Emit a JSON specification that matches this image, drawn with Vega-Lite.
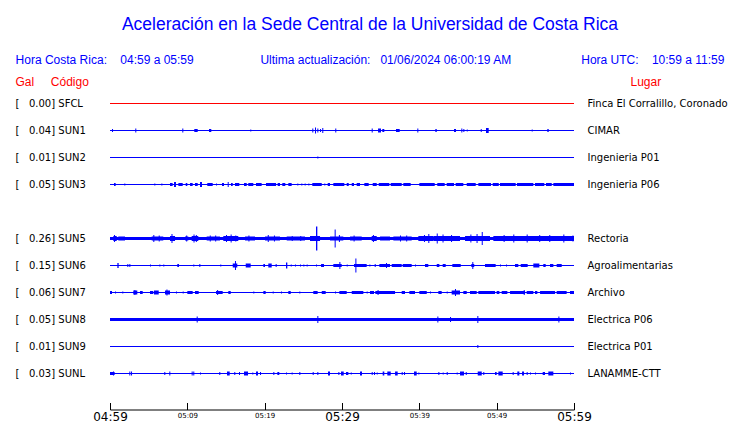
{
  "$schema": "https://vega.github.io/schema/vega-lite/v6.json",
  "width": 464,
  "height": 324,
  "autosize": {"type": "none"},
  "padding": {"top": 76.5, "left": 110, "right": 166, "bottom": 22.5},
  "background": "white",
  "title": {
    "text": "\u00a0\u00a0Aceleración en la Sede Central de la Universidad de Costa Rica",
    "subtitle": "Hora Costa Rica:\u00a0\u00a0\u00a0\u00a004:59 a 05:59\u00a0\u00a0\u00a0\u00a0\u00a0\u00a0\u00a0\u00a0\u00a0\u00a0\u00a0\u00a0\u00a0\u00a0\u00a0\u00a0\u00a0\u00a0\u00a0\u00a0Ultima actualización:\u00a0\u00a0\u00a001/06/2024 06:00:19 AM\u00a0\u00a0\u00a0\u00a0\u00a0\u00a0\u00a0\u00a0\u00a0\u00a0\u00a0\u00a0\u00a0\u00a0\u00a0\u00a0\u00a0\u00a0\u00a0\u00a0\u00a0Hora UTC:\u00a0\u00a0\u00a0\u00a010:59 a 11:59",
    "anchor": "middle",
    "frame": "group",
    "dx": 28,
    "font": "Liberation Sans",
    "fontSize": 17.5,
    "fontWeight": "normal",
    "color": "#0000ff",
    "subtitleFont": "Liberation Sans",
    "subtitleFontSize": 12,
    "subtitleColor": "#0000ff",
    "subtitlePadding": 22,
    "offset": 9
  },
  "config": {"view": {"stroke": null}, "axis": {"grid": false}},
  "datasets": {
    "estaciones": [
      {"codigo": "SFCL", "etiqueta": "[\u00a0\u00a0\u00a00.00]\u00a0SFCL", "lugar": "Finca El Corralillo, Coronado"},
      {"codigo": "SUN1", "etiqueta": "[\u00a0\u00a0\u00a00.04]\u00a0SUN1", "lugar": "CIMAR"},
      {"codigo": "SUN2", "etiqueta": "[\u00a0\u00a0\u00a00.01]\u00a0SUN2", "lugar": "Ingenieria P01"},
      {"codigo": "SUN3", "etiqueta": "[\u00a0\u00a0\u00a00.05]\u00a0SUN3", "lugar": "Ingenieria P06"},
      {"codigo": "SUN5", "etiqueta": "[\u00a0\u00a0\u00a00.26]\u00a0SUN5", "lugar": "Rectoria"},
      {"codigo": "SUN6", "etiqueta": "[\u00a0\u00a0\u00a00.15]\u00a0SUN6", "lugar": "Agroalimentarias"},
      {"codigo": "SUN7", "etiqueta": "[\u00a0\u00a0\u00a00.06]\u00a0SUN7", "lugar": "Archivo"},
      {"codigo": "SUN8", "etiqueta": "[\u00a0\u00a0\u00a00.05]\u00a0SUN8", "lugar": "Electrica P06"},
      {"codigo": "SUN9", "etiqueta": "[\u00a0\u00a0\u00a00.01]\u00a0SUN9", "lugar": "Electrica P01"},
      {"codigo": "SUNL", "etiqueta": "[\u00a0\u00a0\u00a00.03]\u00a0SUNL", "lugar": "LANAMME-CTT"}
    ],
    "trazas": [
      {"codigo": "SUN1", "t0": 0.26, "t1": 0.39, "amp": 3},
      {"codigo": "SUN1", "t0": 3.27, "t1": 3.40, "amp": 4},
      {"codigo": "SUN1", "t0": 9.35, "t1": 9.48, "amp": 4},
      {"codigo": "SUN1", "t0": 10.90, "t1": 11.34, "amp": 3},
      {"codigo": "SUN1", "t0": 12.80, "t1": 13.10, "amp": 3},
      {"codigo": "SUN1", "t0": 18.14, "t1": 18.27, "amp": 2},
      {"codigo": "SUN1", "t0": 26.16, "t1": 26.29, "amp": 4},
      {"codigo": "SUN1", "t0": 26.51, "t1": 26.64, "amp": 6},
      {"codigo": "SUN1", "t0": 26.81, "t1": 26.94, "amp": 4},
      {"codigo": "SUN1", "t0": 27.16, "t1": 27.29, "amp": 3},
      {"codigo": "SUN1", "t0": 27.45, "t1": 27.58, "amp": 5},
      {"codigo": "SUN1", "t0": 29.13, "t1": 29.26, "amp": 4},
      {"codigo": "SUN1", "t0": 33.84, "t1": 33.97, "amp": 4},
      {"codigo": "SUN1", "t0": 34.66, "t1": 35.04, "amp": 4},
      {"codigo": "SUN1", "t0": 35.21, "t1": 35.47, "amp": 3},
      {"codigo": "SUN1", "t0": 36.98, "t1": 37.46, "amp": 3},
      {"codigo": "SUN1", "t0": 39.74, "t1": 39.87, "amp": 4},
      {"codigo": "SUN1", "t0": 42.07, "t1": 42.25, "amp": 3},
      {"codigo": "SUN1", "t0": 44.48, "t1": 44.74, "amp": 3},
      {"codigo": "SUN1", "t0": 45.43, "t1": 45.56, "amp": 4},
      {"codigo": "SUN1", "t0": 45.69, "t1": 45.82, "amp": 3},
      {"codigo": "SUN1", "t0": 46.13, "t1": 46.26, "amp": 2},
      {"codigo": "SUN1", "t0": 47.94, "t1": 48.07, "amp": 3},
      {"codigo": "SUN1", "t0": 48.62, "t1": 48.97, "amp": 5},
      {"codigo": "SUN1", "t0": 54.53, "t1": 54.66, "amp": 2},
      {"codigo": "SUN1", "t0": 56.55, "t1": 56.73, "amp": 3},

      {"codigo": "SUN2", "t0": 26.81, "t1": 26.94, "amp": 2},

      {"codigo": "SUN3", "t0": 0.52, "t1": 0.73, "amp": 3},
      {"codigo": "SUN3", "t0": 1.85, "t1": 1.98, "amp": 2},
      {"codigo": "SUN3", "t0": 5.73, "t1": 5.86, "amp": 2},
      {"codigo": "SUN3", "t0": 6.64, "t1": 6.77, "amp": 2},
      {"codigo": "SUN3", "t0": 7.76, "t1": 8.10, "amp": 3},
      {"codigo": "SUN3", "t0": 8.28, "t1": 8.53, "amp": 5},
      {"codigo": "SUN3", "t0": 8.84, "t1": 9.40, "amp": 3},
      {"codigo": "SUN3", "t0": 9.79, "t1": 10.00, "amp": 3},
      {"codigo": "SUN3", "t0": 10.35, "t1": 10.69, "amp": 3},
      {"codigo": "SUN3", "t0": 10.99, "t1": 11.34, "amp": 3},
      {"codigo": "SUN3", "t0": 11.64, "t1": 11.90, "amp": 5},
      {"codigo": "SUN3", "t0": 12.58, "t1": 13.28, "amp": 3},
      {"codigo": "SUN3", "t0": 13.71, "t1": 13.84, "amp": 2},
      {"codigo": "SUN3", "t0": 14.48, "t1": 14.74, "amp": 3},
      {"codigo": "SUN3", "t0": 15.22, "t1": 15.35, "amp": 5},
      {"codigo": "SUN3", "t0": 15.65, "t1": 15.87, "amp": 3},
      {"codigo": "SUN3", "t0": 16.16, "t1": 16.72, "amp": 3},
      {"codigo": "SUN3", "t0": 17.33, "t1": 17.68, "amp": 3},
      {"codigo": "SUN3", "t0": 17.88, "t1": 18.53, "amp": 3},
      {"codigo": "SUN3", "t0": 18.88, "t1": 19.61, "amp": 3},
      {"codigo": "SUN3", "t0": 20.17, "t1": 21.47, "amp": 3},
      {"codigo": "SUN3", "t0": 21.68, "t1": 21.98, "amp": 3},
      {"codigo": "SUN3", "t0": 22.28, "t1": 22.67, "amp": 3},
      {"codigo": "SUN3", "t0": 23.06, "t1": 23.49, "amp": 3},
      {"codigo": "SUN3", "t0": 24.22, "t1": 24.35, "amp": 2},
      {"codigo": "SUN3", "t0": 24.74, "t1": 24.87, "amp": 2},
      {"codigo": "SUN3", "t0": 25.17, "t1": 25.30, "amp": 2},
      {"codigo": "SUN3", "t0": 25.65, "t1": 25.78, "amp": 2},
      {"codigo": "SUN3", "t0": 26.16, "t1": 27.38, "amp": 3},
      {"codigo": "SUN3", "t0": 27.71, "t1": 27.84, "amp": 2},
      {"codigo": "SUN3", "t0": 28.15, "t1": 28.45, "amp": 3},
      {"codigo": "SUN3", "t0": 28.88, "t1": 30.30, "amp": 3},
      {"codigo": "SUN3", "t0": 30.61, "t1": 30.87, "amp": 3},
      {"codigo": "SUN3", "t0": 31.26, "t1": 31.55, "amp": 3},
      {"codigo": "SUN3", "t0": 31.90, "t1": 32.33, "amp": 3},
      {"codigo": "SUN3", "t0": 32.89, "t1": 33.45, "amp": 3},
      {"codigo": "SUN3", "t0": 33.97, "t1": 34.49, "amp": 3},
      {"codigo": "SUN3", "t0": 34.75, "t1": 36.12, "amp": 3},
      {"codigo": "SUN3", "t0": 36.30, "t1": 37.72, "amp": 3},
      {"codigo": "SUN3", "t0": 37.93, "t1": 38.88, "amp": 3},
      {"codigo": "SUN3", "t0": 40.00, "t1": 41.99, "amp": 3},
      {"codigo": "SUN3", "t0": 42.32, "t1": 43.28, "amp": 3},
      {"codigo": "SUN3", "t0": 43.54, "t1": 44.48, "amp": 3},
      {"codigo": "SUN3", "t0": 44.70, "t1": 45.69, "amp": 3},
      {"codigo": "SUN3", "t0": 46.13, "t1": 47.29, "amp": 3},
      {"codigo": "SUN3", "t0": 47.63, "t1": 49.27, "amp": 3},
      {"codigo": "SUN3", "t0": 49.49, "t1": 50.27, "amp": 3},
      {"codigo": "SUN3", "t0": 50.43, "t1": 52.46, "amp": 3},
      {"codigo": "SUN3", "t0": 52.63, "t1": 54.74, "amp": 3},
      {"codigo": "SUN3", "t0": 54.96, "t1": 56.16, "amp": 3},
      {"codigo": "SUN3", "t0": 56.38, "t1": 57.12, "amp": 3},
      {"codigo": "SUN3", "t0": 57.33, "t1": 60.00, "amp": 3},

      {"codigo": "SUN5", "t0": 0, "t1": 60, "amp": 3},
      {"codigo": "SUN5", "t0": 0.43, "t1": 0.87, "amp": 5},
      {"codigo": "SUN5", "t0": 0.52, "t1": 0.65, "amp": 7},
      {"codigo": "SUN5", "t0": 1.07, "t1": 1.94, "amp": 4},
      {"codigo": "SUN5", "t0": 5.39, "t1": 6.89, "amp": 4},
      {"codigo": "SUN5", "t0": 5.60, "t1": 5.73, "amp": 7},
      {"codigo": "SUN5", "t0": 6.30, "t1": 6.43, "amp": 6},
      {"codigo": "SUN5", "t0": 7.76, "t1": 8.41, "amp": 5},
      {"codigo": "SUN5", "t0": 7.95, "t1": 8.08, "amp": 9},
      {"codigo": "SUN5", "t0": 9.70, "t1": 10.13, "amp": 4},
      {"codigo": "SUN5", "t0": 9.85, "t1": 9.98, "amp": 6},
      {"codigo": "SUN5", "t0": 10.56, "t1": 11.42, "amp": 5},
      {"codigo": "SUN5", "t0": 10.80, "t1": 10.93, "amp": 8},
      {"codigo": "SUN5", "t0": 11.10, "t1": 11.23, "amp": 7},
      {"codigo": "SUN5", "t0": 12.50, "t1": 14.22, "amp": 4},
      {"codigo": "SUN5", "t0": 12.90, "t1": 13.03, "amp": 6},
      {"codigo": "SUN5", "t0": 13.60, "t1": 13.73, "amp": 6},
      {"codigo": "SUN5", "t0": 14.65, "t1": 16.59, "amp": 5},
      {"codigo": "SUN5", "t0": 15.00, "t1": 15.13, "amp": 7},
      {"codigo": "SUN5", "t0": 15.60, "t1": 15.73, "amp": 8},
      {"codigo": "SUN5", "t0": 16.20, "t1": 16.33, "amp": 6},
      {"codigo": "SUN5", "t0": 17.46, "t1": 18.75, "amp": 4},
      {"codigo": "SUN5", "t0": 17.90, "t1": 18.03, "amp": 6},
      {"codigo": "SUN5", "t0": 20.04, "t1": 21.98, "amp": 4},
      {"codigo": "SUN5", "t0": 20.40, "t1": 20.53, "amp": 7},
      {"codigo": "SUN5", "t0": 21.20, "t1": 21.33, "amp": 6},
      {"codigo": "SUN5", "t0": 22.85, "t1": 25.22, "amp": 4},
      {"codigo": "SUN5", "t0": 23.50, "t1": 23.63, "amp": 5},
      {"codigo": "SUN5", "t0": 24.60, "t1": 24.73, "amp": 5},
      {"codigo": "SUN5", "t0": 25.86, "t1": 27.16, "amp": 5},
      {"codigo": "SUN5", "t0": 26.64, "t1": 26.81, "amp": 24},
      {"codigo": "SUN5", "t0": 28.45, "t1": 30.17, "amp": 4},
      {"codigo": "SUN5", "t0": 29.05, "t1": 29.18, "amp": 18},
      {"codigo": "SUN5", "t0": 29.60, "t1": 29.73, "amp": 7},
      {"codigo": "SUN5", "t0": 31.04, "t1": 32.55, "amp": 4},
      {"codigo": "SUN5", "t0": 31.50, "t1": 31.63, "amp": 6},
      {"codigo": "SUN5", "t0": 33.84, "t1": 34.49, "amp": 5},
      {"codigo": "SUN5", "t0": 34.00, "t1": 34.13, "amp": 7},
      {"codigo": "SUN5", "t0": 34.92, "t1": 36.21, "amp": 4},
      {"codigo": "SUN5", "t0": 36.64, "t1": 39.01, "amp": 4},
      {"codigo": "SUN5", "t0": 37.50, "t1": 37.63, "amp": 6},
      {"codigo": "SUN5", "t0": 38.30, "t1": 38.43, "amp": 6},
      {"codigo": "SUN5", "t0": 39.87, "t1": 41.81, "amp": 5},
      {"codigo": "SUN5", "t0": 40.60, "t1": 40.73, "amp": 7},
      {"codigo": "SUN5", "t0": 41.16, "t1": 41.29, "amp": 9},
      {"codigo": "SUN5", "t0": 41.81, "t1": 45.26, "amp": 5},
      {"codigo": "SUN5", "t0": 42.25, "t1": 42.38, "amp": 10},
      {"codigo": "SUN5", "t0": 43.00, "t1": 43.13, "amp": 8},
      {"codigo": "SUN5", "t0": 44.10, "t1": 44.23, "amp": 7},
      {"codigo": "SUN5", "t0": 45.91, "t1": 49.14, "amp": 5},
      {"codigo": "SUN5", "t0": 46.60, "t1": 46.73, "amp": 8},
      {"codigo": "SUN5", "t0": 47.40, "t1": 47.53, "amp": 9},
      {"codigo": "SUN5", "t0": 48.07, "t1": 48.20, "amp": 13},
      {"codigo": "SUN5", "t0": 49.57, "t1": 60.00, "amp": 5},
      {"codigo": "SUN5", "t0": 50.90, "t1": 51.03, "amp": 7},
      {"codigo": "SUN5", "t0": 52.15, "t1": 52.28, "amp": 8},
      {"codigo": "SUN5", "t0": 53.88, "t1": 54.01, "amp": 8},
      {"codigo": "SUN5", "t0": 55.50, "t1": 55.63, "amp": 7},
      {"codigo": "SUN5", "t0": 56.80, "t1": 56.93, "amp": 7},
      {"codigo": "SUN5", "t0": 58.62, "t1": 58.75, "amp": 8},
      {"codigo": "SUN5", "t0": 59.80, "t1": 59.93, "amp": 6},

      {"codigo": "SUN6", "t0": 0.95, "t1": 1.12, "amp": 5},
      {"codigo": "SUN6", "t0": 2.24, "t1": 2.37, "amp": 3},
      {"codigo": "SUN6", "t0": 2.50, "t1": 2.63, "amp": 3},
      {"codigo": "SUN6", "t0": 5.17, "t1": 5.30, "amp": 2},
      {"codigo": "SUN6", "t0": 6.38, "t1": 6.51, "amp": 2},
      {"codigo": "SUN6", "t0": 6.89, "t1": 7.02, "amp": 2},
      {"codigo": "SUN6", "t0": 8.70, "t1": 8.92, "amp": 3},
      {"codigo": "SUN6", "t0": 10.77, "t1": 10.90, "amp": 2},
      {"codigo": "SUN6", "t0": 11.55, "t1": 11.68, "amp": 3},
      {"codigo": "SUN6", "t0": 14.26, "t1": 14.39, "amp": 2},
      {"codigo": "SUN6", "t0": 15.87, "t1": 16.46, "amp": 4},
      {"codigo": "SUN6", "t0": 16.16, "t1": 16.29, "amp": 9},
      {"codigo": "SUN6", "t0": 17.55, "t1": 18.19, "amp": 4},
      {"codigo": "SUN6", "t0": 19.83, "t1": 20.04, "amp": 3},
      {"codigo": "SUN6", "t0": 20.47, "t1": 20.91, "amp": 4},
      {"codigo": "SUN6", "t0": 21.42, "t1": 21.55, "amp": 3},
      {"codigo": "SUN6", "t0": 22.76, "t1": 22.93, "amp": 6},
      {"codigo": "SUN6", "t0": 23.37, "t1": 23.50, "amp": 2},
      {"codigo": "SUN6", "t0": 23.92, "t1": 24.05, "amp": 2},
      {"codigo": "SUN6", "t0": 24.57, "t1": 24.70, "amp": 2},
      {"codigo": "SUN6", "t0": 25.00, "t1": 25.13, "amp": 2},
      {"codigo": "SUN6", "t0": 25.43, "t1": 25.56, "amp": 2},
      {"codigo": "SUN6", "t0": 26.64, "t1": 26.77, "amp": 2},
      {"codigo": "SUN6", "t0": 27.29, "t1": 27.67, "amp": 3},
      {"codigo": "SUN6", "t0": 28.88, "t1": 29.96, "amp": 3},
      {"codigo": "SUN6", "t0": 29.66, "t1": 29.79, "amp": 7},
      {"codigo": "SUN6", "t0": 30.61, "t1": 30.74, "amp": 2},
      {"codigo": "SUN6", "t0": 31.55, "t1": 33.19, "amp": 3},
      {"codigo": "SUN6", "t0": 31.73, "t1": 31.86, "amp": 14},
      {"codigo": "SUN6", "t0": 33.54, "t1": 33.67, "amp": 2},
      {"codigo": "SUN6", "t0": 34.23, "t1": 34.36, "amp": 3},
      {"codigo": "SUN6", "t0": 34.83, "t1": 36.21, "amp": 3},
      {"codigo": "SUN6", "t0": 35.69, "t1": 35.82, "amp": 5},
      {"codigo": "SUN6", "t0": 36.43, "t1": 37.72, "amp": 3},
      {"codigo": "SUN6", "t0": 37.85, "t1": 39.01, "amp": 3},
      {"codigo": "SUN6", "t0": 39.44, "t1": 39.57, "amp": 2},
      {"codigo": "SUN6", "t0": 40.73, "t1": 41.16, "amp": 3},
      {"codigo": "SUN6", "t0": 42.25, "t1": 42.59, "amp": 3},
      {"codigo": "SUN6", "t0": 43.02, "t1": 43.41, "amp": 3},
      {"codigo": "SUN6", "t0": 44.27, "t1": 45.35, "amp": 3},
      {"codigo": "SUN6", "t0": 46.72, "t1": 47.10, "amp": 3},
      {"codigo": "SUN6", "t0": 46.85, "t1": 46.98, "amp": 7},
      {"codigo": "SUN6", "t0": 48.49, "t1": 49.87, "amp": 3},
      {"codigo": "SUN6", "t0": 50.43, "t1": 50.56, "amp": 2},
      {"codigo": "SUN6", "t0": 51.21, "t1": 51.34, "amp": 2},
      {"codigo": "SUN6", "t0": 52.37, "t1": 52.80, "amp": 3},
      {"codigo": "SUN6", "t0": 53.11, "t1": 54.01, "amp": 3},
      {"codigo": "SUN6", "t0": 54.74, "t1": 55.52, "amp": 4},
      {"codigo": "SUN6", "t0": 56.03, "t1": 56.34, "amp": 3},
      {"codigo": "SUN6", "t0": 56.90, "t1": 57.33, "amp": 3},
      {"codigo": "SUN6", "t0": 57.76, "t1": 58.41, "amp": 3},

      {"codigo": "SUN7", "t0": 0.00, "t1": 0.26, "amp": 3},
      {"codigo": "SUN7", "t0": 0.65, "t1": 0.78, "amp": 2},
      {"codigo": "SUN7", "t0": 1.59, "t1": 1.72, "amp": 2},
      {"codigo": "SUN7", "t0": 3.01, "t1": 3.53, "amp": 4},
      {"codigo": "SUN7", "t0": 3.15, "t1": 3.28, "amp": 5},
      {"codigo": "SUN7", "t0": 3.88, "t1": 4.23, "amp": 3},
      {"codigo": "SUN7", "t0": 5.17, "t1": 5.60, "amp": 3},
      {"codigo": "SUN7", "t0": 5.69, "t1": 6.30, "amp": 4},
      {"codigo": "SUN7", "t0": 7.11, "t1": 7.76, "amp": 4},
      {"codigo": "SUN7", "t0": 7.30, "t1": 7.43, "amp": 6},
      {"codigo": "SUN7", "t0": 8.53, "t1": 8.66, "amp": 2},
      {"codigo": "SUN7", "t0": 9.40, "t1": 9.53, "amp": 2},
      {"codigo": "SUN7", "t0": 10.00, "t1": 10.69, "amp": 3},
      {"codigo": "SUN7", "t0": 10.99, "t1": 11.47, "amp": 3},
      {"codigo": "SUN7", "t0": 13.71, "t1": 14.57, "amp": 3},
      {"codigo": "SUN7", "t0": 13.85, "t1": 13.98, "amp": 5},
      {"codigo": "SUN7", "t0": 15.30, "t1": 15.61, "amp": 3},
      {"codigo": "SUN7", "t0": 18.53, "t1": 18.66, "amp": 2},
      {"codigo": "SUN7", "t0": 19.83, "t1": 20.13, "amp": 3},
      {"codigo": "SUN7", "t0": 21.04, "t1": 21.17, "amp": 2},
      {"codigo": "SUN7", "t0": 22.11, "t1": 22.24, "amp": 2},
      {"codigo": "SUN7", "t0": 23.06, "t1": 23.37, "amp": 3},
      {"codigo": "SUN7", "t0": 24.48, "t1": 24.61, "amp": 2},
      {"codigo": "SUN7", "t0": 26.29, "t1": 26.85, "amp": 3},
      {"codigo": "SUN7", "t0": 27.38, "t1": 27.89, "amp": 3},
      {"codigo": "SUN7", "t0": 29.10, "t1": 29.23, "amp": 2},
      {"codigo": "SUN7", "t0": 29.66, "t1": 30.61, "amp": 3},
      {"codigo": "SUN7", "t0": 31.26, "t1": 32.76, "amp": 3},
      {"codigo": "SUN7", "t0": 33.19, "t1": 33.32, "amp": 2},
      {"codigo": "SUN7", "t0": 33.62, "t1": 34.14, "amp": 3},
      {"codigo": "SUN7", "t0": 34.31, "t1": 36.86, "amp": 3},
      {"codigo": "SUN7", "t0": 34.60, "t1": 34.73, "amp": 5},
      {"codigo": "SUN7", "t0": 37.72, "t1": 38.15, "amp": 3},
      {"codigo": "SUN7", "t0": 38.71, "t1": 39.44, "amp": 3},
      {"codigo": "SUN7", "t0": 40.00, "t1": 40.96, "amp": 3},
      {"codigo": "SUN7", "t0": 41.38, "t1": 41.51, "amp": 2},
      {"codigo": "SUN7", "t0": 42.46, "t1": 42.89, "amp": 3},
      {"codigo": "SUN7", "t0": 43.54, "t1": 43.67, "amp": 2},
      {"codigo": "SUN7", "t0": 44.18, "t1": 45.26, "amp": 4},
      {"codigo": "SUN7", "t0": 44.61, "t1": 44.74, "amp": 7},
      {"codigo": "SUN7", "t0": 45.69, "t1": 46.13, "amp": 3},
      {"codigo": "SUN7", "t0": 46.55, "t1": 47.42, "amp": 3},
      {"codigo": "SUN7", "t0": 47.63, "t1": 49.79, "amp": 3},
      {"codigo": "SUN7", "t0": 50.00, "t1": 50.35, "amp": 3},
      {"codigo": "SUN7", "t0": 50.65, "t1": 51.38, "amp": 3},
      {"codigo": "SUN7", "t0": 51.73, "t1": 53.67, "amp": 3},
      {"codigo": "SUN7", "t0": 53.50, "t1": 53.63, "amp": 5},
      {"codigo": "SUN7", "t0": 53.88, "t1": 54.74, "amp": 3},
      {"codigo": "SUN7", "t0": 54.96, "t1": 55.26, "amp": 3},
      {"codigo": "SUN7", "t0": 55.61, "t1": 57.55, "amp": 3},
      {"codigo": "SUN7", "t0": 57.76, "t1": 59.05, "amp": 3},
      {"codigo": "SUN7", "t0": 59.48, "t1": 60.00, "amp": 3},

      {"codigo": "SUN8", "t0": 0, "t1": 60, "amp": 3},
      {"codigo": "SUN8", "t0": 11.21, "t1": 11.34, "amp": 6},
      {"codigo": "SUN8", "t0": 26.81, "t1": 26.94, "amp": 7},
      {"codigo": "SUN8", "t0": 42.33, "t1": 42.46, "amp": 6},
      {"codigo": "SUN8", "t0": 43.97, "t1": 44.10, "amp": 5},
      {"codigo": "SUN8", "t0": 47.50, "t1": 47.63, "amp": 7},
      {"codigo": "SUN8", "t0": 57.98, "t1": 58.11, "amp": 6},

      {"codigo": "SUN9", "t0": 47.50, "t1": 47.63, "amp": 3},

      {"codigo": "SUNL", "t0": 0.00, "t1": 0.60, "amp": 3},
      {"codigo": "SUNL", "t0": 0.39, "t1": 0.52, "amp": 4},
      {"codigo": "SUNL", "t0": 2.50, "t1": 2.63, "amp": 4},
      {"codigo": "SUNL", "t0": 2.72, "t1": 2.85, "amp": 4},
      {"codigo": "SUNL", "t0": 7.02, "t1": 7.15, "amp": 3},
      {"codigo": "SUNL", "t0": 7.67, "t1": 7.80, "amp": 4},
      {"codigo": "SUNL", "t0": 10.56, "t1": 10.69, "amp": 4},
      {"codigo": "SUNL", "t0": 10.77, "t1": 10.90, "amp": 4},
      {"codigo": "SUNL", "t0": 11.64, "t1": 11.77, "amp": 2},
      {"codigo": "SUNL", "t0": 14.13, "t1": 14.26, "amp": 3},
      {"codigo": "SUNL", "t0": 15.13, "t1": 15.48, "amp": 4},
      {"codigo": "SUNL", "t0": 16.07, "t1": 16.20, "amp": 3},
      {"codigo": "SUNL", "t0": 16.68, "t1": 16.81, "amp": 3},
      {"codigo": "SUNL", "t0": 17.33, "t1": 17.85, "amp": 4},
      {"codigo": "SUNL", "t0": 18.40, "t1": 18.53, "amp": 2},
      {"codigo": "SUNL", "t0": 18.88, "t1": 19.14, "amp": 4},
      {"codigo": "SUNL", "t0": 19.40, "t1": 19.53, "amp": 3},
      {"codigo": "SUNL", "t0": 21.12, "t1": 21.25, "amp": 3},
      {"codigo": "SUNL", "t0": 21.64, "t1": 21.89, "amp": 3},
      {"codigo": "SUNL", "t0": 22.76, "t1": 22.89, "amp": 2},
      {"codigo": "SUNL", "t0": 23.49, "t1": 23.62, "amp": 2},
      {"codigo": "SUNL", "t0": 24.48, "t1": 24.61, "amp": 3},
      {"codigo": "SUNL", "t0": 26.21, "t1": 26.34, "amp": 3},
      {"codigo": "SUNL", "t0": 26.81, "t1": 26.94, "amp": 3},
      {"codigo": "SUNL", "t0": 28.19, "t1": 28.45, "amp": 4},
      {"codigo": "SUNL", "t0": 29.53, "t1": 29.66, "amp": 3},
      {"codigo": "SUNL", "t0": 29.87, "t1": 30.22, "amp": 4},
      {"codigo": "SUNL", "t0": 30.52, "t1": 30.82, "amp": 3},
      {"codigo": "SUNL", "t0": 31.13, "t1": 31.26, "amp": 2},
      {"codigo": "SUNL", "t0": 32.33, "t1": 32.59, "amp": 4},
      {"codigo": "SUNL", "t0": 33.84, "t1": 33.97, "amp": 3},
      {"codigo": "SUNL", "t0": 34.14, "t1": 34.27, "amp": 3},
      {"codigo": "SUNL", "t0": 34.49, "t1": 34.62, "amp": 2},
      {"codigo": "SUNL", "t0": 35.26, "t1": 35.47, "amp": 4},
      {"codigo": "SUNL", "t0": 35.86, "t1": 36.30, "amp": 4},
      {"codigo": "SUNL", "t0": 36.86, "t1": 37.20, "amp": 4},
      {"codigo": "SUNL", "t0": 37.72, "t1": 37.85, "amp": 3},
      {"codigo": "SUNL", "t0": 38.02, "t1": 38.15, "amp": 3},
      {"codigo": "SUNL", "t0": 39.31, "t1": 39.66, "amp": 4},
      {"codigo": "SUNL", "t0": 39.87, "t1": 40.00, "amp": 2},
      {"codigo": "SUNL", "t0": 42.46, "t1": 42.59, "amp": 3},
      {"codigo": "SUNL", "t0": 43.02, "t1": 43.15, "amp": 2},
      {"codigo": "SUNL", "t0": 43.54, "t1": 43.67, "amp": 3},
      {"codigo": "SUNL", "t0": 44.83, "t1": 44.96, "amp": 2},
      {"codigo": "SUNL", "t0": 45.26, "t1": 45.78, "amp": 4},
      {"codigo": "SUNL", "t0": 46.00, "t1": 46.13, "amp": 3},
      {"codigo": "SUNL", "t0": 47.55, "t1": 48.07, "amp": 4},
      {"codigo": "SUNL", "t0": 48.27, "t1": 48.40, "amp": 3},
      {"codigo": "SUNL", "t0": 49.79, "t1": 50.00, "amp": 3},
      {"codigo": "SUNL", "t0": 50.22, "t1": 50.78, "amp": 4},
      {"codigo": "SUNL", "t0": 52.07, "t1": 52.20, "amp": 3},
      {"codigo": "SUNL", "t0": 52.67, "t1": 52.93, "amp": 4},
      {"codigo": "SUNL", "t0": 53.28, "t1": 53.54, "amp": 4},
      {"codigo": "SUNL", "t0": 53.88, "t1": 54.01, "amp": 3},
      {"codigo": "SUNL", "t0": 54.31, "t1": 54.44, "amp": 2},
      {"codigo": "SUNL", "t0": 54.96, "t1": 55.09, "amp": 2},
      {"codigo": "SUNL", "t0": 55.95, "t1": 56.25, "amp": 3},
      {"codigo": "SUNL", "t0": 56.68, "t1": 57.33, "amp": 4},
      {"codigo": "SUNL", "t0": 59.48, "t1": 59.61, "amp": 2}
    ]
  },
  "layer": [
    {
      "data": {"name": "estaciones"},
      "mark": {"type": "bar"},
      "encoding": {
        "y": {
          "field": "etiqueta",
          "type": "nominal",
          "scale": {
            "type": "point",
            "padding": 1,
            "domain": [
              "[\u00a0\u00a0\u00a00.00]\u00a0SFCL",
              "[\u00a0\u00a0\u00a00.04]\u00a0SUN1",
              "[\u00a0\u00a0\u00a00.01]\u00a0SUN2",
              "[\u00a0\u00a0\u00a00.05]\u00a0SUN3",
              "",
              "[\u00a0\u00a0\u00a00.26]\u00a0SUN5",
              "[\u00a0\u00a0\u00a00.15]\u00a0SUN6",
              "[\u00a0\u00a0\u00a00.06]\u00a0SUN7",
              "[\u00a0\u00a0\u00a00.05]\u00a0SUN8",
              "[\u00a0\u00a0\u00a00.01]\u00a0SUN9",
              "[\u00a0\u00a0\u00a00.03]\u00a0SUNL"
            ]
          },
          "axis": {
            "orient": "left",
            "domain": false,
            "ticks": false,
            "labelAlign": "left",
            "labelBaseline": "middle",
            "labelPadding": 95,
            "labelFont": "DejaVu Sans",
            "labelFontSize": 10,
            "labelColor": "#000000",
            "labelOverlap": false,
            "labelLimit": 0,
            "title": "Gal\u00a0\u00a0\u00a0\u00a0\u00a0Código",
            "titleFont": "Liberation Sans",
            "titleFontSize": 12,
            "titleFontWeight": "normal",
            "titleColor": "#ff0000",
            "titleAngle": 0,
            "titleAlign": "left",
            "titleBaseline": "alphabetic",
            "titleX": -95,
            "titleY": 8.5
          }
        },
        "x": {"datum": 0, "type": "quantitative", "scale": {"domain": [0, 60], "nice": false, "zero": false}},
        "x2": {"datum": 60},
        "size": {"value": 1},
        "color": {"condition": {"test": "datum.codigo === 'SFCL'", "value": "#ff0000"}, "value": "#0000ff"}
      }
    },
    {
      "data": {"name": "estaciones"},
      "mark": {"type": "bar", "opacity": 0},
      "encoding": {
        "y": {
          "field": "lugar",
          "type": "nominal",
          "scale": {
            "type": "point",
            "padding": 1,
            "domain": [
              "Finca El Corralillo, Coronado",
              "CIMAR",
              "Ingenieria P01",
              "Ingenieria P06",
              "",
              "Rectoria",
              "Agroalimentarias",
              "Archivo",
              "Electrica P06",
              "Electrica P01",
              "LANAMME-CTT"
            ]
          },
          "axis": {
            "orient": "right",
            "domain": false,
            "ticks": false,
            "labelAlign": "left",
            "labelBaseline": "middle",
            "labelPadding": 13,
            "labelFont": "DejaVu Sans",
            "labelFontSize": 10,
            "labelColor": "#000000",
            "labelOverlap": false,
            "labelLimit": 0,
            "title": "Lugar",
            "titleFont": "Liberation Sans",
            "titleFontSize": 12,
            "titleFontWeight": "normal",
            "titleColor": "#ff0000",
            "titleAngle": 0,
            "titleAlign": "left",
            "titleBaseline": "alphabetic",
            "titleX": 56,
            "titleY": 8.5
          }
        },
        "x": {"datum": 0, "type": "quantitative"},
        "x2": {"datum": 60},
        "size": {"value": 1}
      }
    },
    {
      "data": {"name": "trazas"},
      "mark": {"type": "bar", "color": "#0000ff"},
      "encoding": {
        "y": {
          "field": "codigo",
          "type": "nominal",
          "scale": {
            "type": "point",
            "padding": 1,
            "domain": ["SFCL", "SUN1", "SUN2", "SUN3", "SUN4", "SUN5", "SUN6", "SUN7", "SUN8", "SUN9", "SUNL"]
          },
          "axis": null
        },
        "x": {
          "field": "t0",
          "type": "quantitative",
          "axis": {
            "title": null,
            "values": [0, 5, 10, 15, 20, 25, 30, 35, 40, 45, 50, 55, 60],
            "offset": 9,
            "grid": false,
            "domainColor": "#000000",
            "domainWidth": 1,
            "tickColor": "#000000",
            "tickWidth": 1,
            "tickSize": -7,
            "labelPadding": 9,
            "labelBaseline": "top",
            "labelFont": "DejaVu Sans",
            "labelColor": "#000000",
            "labelFontSize": {"condition": {"test": "datum.value % 30 == 0", "value": 12}, "value": 7},
            "labelExpr": "datum.value % 10 == 0 ? timeFormat(datetime(2024, 0, 6, 4, 59 + datum.value), '%H:%M') : ''",
            "labelFlush": false,
            "labelOverlap": false
          }
        },
        "x2": {"field": "t1"},
        "size": {"field": "amp", "type": "quantitative", "scale": {"domain": [0, 24], "range": [0, 24]}, "legend": null}
      }
    }
  ],
  "resolve": {"scale": {"y": "independent"}, "axis": {"y": "independent"}}
}
